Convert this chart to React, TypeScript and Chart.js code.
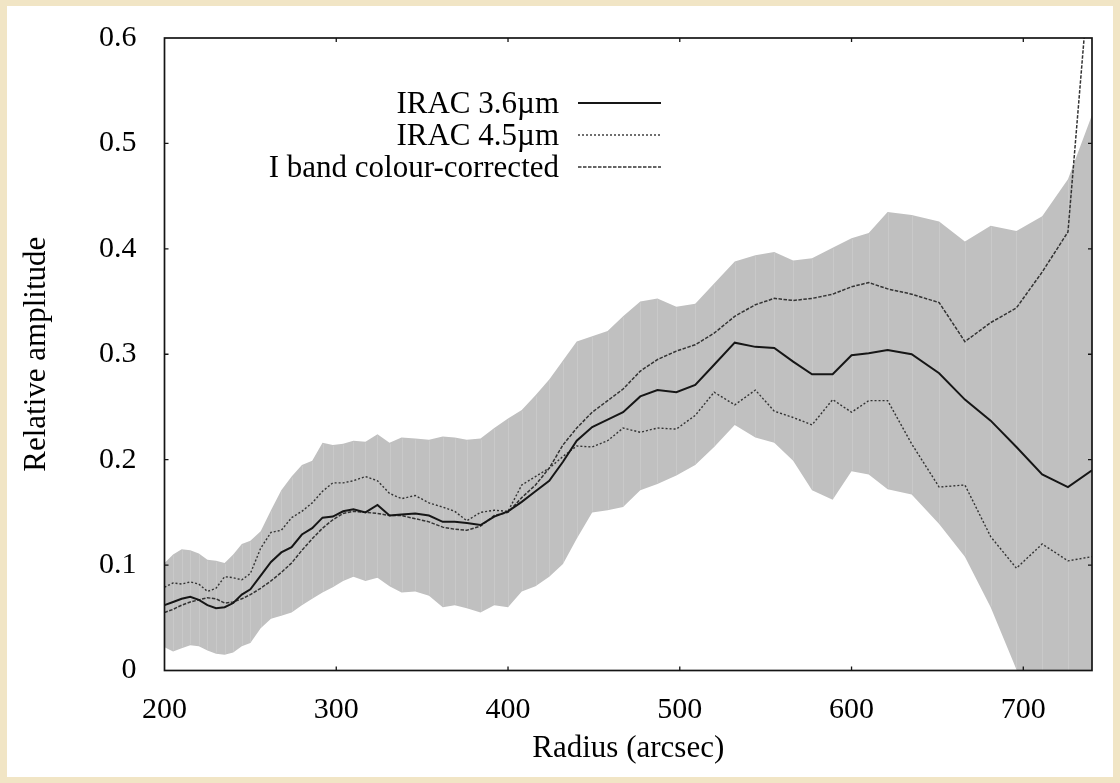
import React, { useEffect, useRef } from "react";
import { Chart, registerables } from "chart.js";

Chart.register(...registerables);

// Radius grid (arcsec)
const radius = [
  200, 205, 210, 215, 220, 225, 230, 235, 240, 245, 250, 256, 262, 268, 274, 280, 286, 292, 298, 304,
  310, 317, 324, 331, 338, 346, 354, 362, 369, 376, 384, 392, 400, 408, 416, 424, 432, 440, 449, 458,
  467, 477, 487, 498, 509, 520, 532, 544, 555, 566, 577, 589, 600, 610, 621, 635, 651, 666, 681, 696,
  711, 726, 740,
];

const irac36 = [
  0.062, 0.065, 0.068, 0.07, 0.067, 0.062, 0.059, 0.06, 0.064, 0.072, 0.077, 0.09, 0.103, 0.112, 0.117, 0.129, 0.135, 0.145, 0.146, 0.151,
  0.153, 0.15, 0.157, 0.147, 0.148, 0.149, 0.147, 0.141, 0.141, 0.14, 0.138, 0.146, 0.151, 0.16, 0.17, 0.18, 0.198, 0.218, 0.231, 0.238,
  0.245, 0.26, 0.266, 0.264, 0.271, 0.29, 0.311, 0.307, 0.306, 0.293, 0.281, 0.281, 0.299, 0.301, 0.304, 0.3, 0.282, 0.257, 0.237, 0.212,
  0.186, 0.174, 0.19,
];

const irac45 = [
  0.079, 0.083, 0.082, 0.084, 0.082, 0.075, 0.078, 0.089, 0.088, 0.086, 0.092, 0.116, 0.131, 0.133, 0.145, 0.151, 0.159, 0.17, 0.178, 0.178,
  0.18, 0.184, 0.18, 0.168, 0.163, 0.166, 0.159, 0.155, 0.151, 0.142, 0.15, 0.152, 0.151, 0.176, 0.184, 0.192, 0.203, 0.213, 0.212, 0.218,
  0.23, 0.226, 0.23, 0.229, 0.242, 0.264, 0.252, 0.266, 0.246, 0.24, 0.233, 0.257, 0.245, 0.256, 0.256, 0.215, 0.174, 0.176, 0.127, 0.097,
  0.12, 0.104, 0.108,
];

const iband = [
  0.055, 0.058, 0.062, 0.065, 0.067, 0.069, 0.068, 0.064, 0.065, 0.068, 0.072, 0.078, 0.085, 0.093, 0.102, 0.114, 0.125, 0.135, 0.143, 0.149,
  0.151, 0.15, 0.149, 0.147, 0.147, 0.144, 0.141, 0.136, 0.134, 0.133, 0.137, 0.147, 0.15, 0.164, 0.176, 0.192, 0.214, 0.23, 0.245, 0.256,
  0.267, 0.284, 0.295, 0.303, 0.309, 0.32, 0.336, 0.347, 0.353, 0.351, 0.353, 0.357, 0.364, 0.368, 0.362, 0.357, 0.349, 0.312, 0.33, 0.344,
  0.378, 0.416, 0.69,
];

const bandUpper = [
  0.102, 0.11, 0.115, 0.114, 0.111, 0.105, 0.104, 0.102, 0.11, 0.12, 0.123, 0.132, 0.152, 0.171, 0.184, 0.195, 0.199, 0.216, 0.214, 0.215,
  0.218, 0.217, 0.224, 0.216, 0.221, 0.22, 0.219, 0.222, 0.221, 0.219, 0.22, 0.23, 0.239, 0.247, 0.261, 0.276, 0.294, 0.312, 0.317, 0.322,
  0.336, 0.35, 0.353, 0.345, 0.348, 0.367, 0.388, 0.394, 0.397, 0.389, 0.391, 0.401, 0.41, 0.415, 0.435, 0.432, 0.426, 0.407, 0.422, 0.417,
  0.431, 0.466, 0.527,
];

const bandLower = [
  0.022, 0.018, 0.021, 0.024, 0.023, 0.019, 0.016, 0.015, 0.017, 0.023, 0.026, 0.04, 0.049, 0.052, 0.055, 0.062, 0.068, 0.074, 0.079, 0.085,
  0.089, 0.085, 0.088, 0.08, 0.074, 0.075, 0.071, 0.06, 0.062, 0.059, 0.055, 0.062, 0.06, 0.075, 0.08, 0.089, 0.101, 0.125, 0.15, 0.152,
  0.155, 0.171, 0.177, 0.185, 0.195, 0.212, 0.233, 0.221, 0.216, 0.199, 0.171, 0.162, 0.189, 0.186, 0.172, 0.167, 0.139, 0.108, 0.06, 0.001,
  -0.05, -0.1, -0.15,
];

const xTicks = [200, 300, 400, 500, 600, 700];
const yTicks = [0, 0.1, 0.2, 0.3, 0.4, 0.5, 0.6];
const seriesLabels = ["IRAC 3.6µm", "IRAC 4.5µm", "I band colour-corrected"];
const xTitle = "Radius (arcsec)";
const yTitle = "Relative amplitude";

const FONT = "'Liberation Serif', 'Times New Roman', serif";

const pts = (ys: number[]) => radius.map((r, i) => ({ x: r, y: ys[i] }));

const bgPlugin = {
  id: "bgPlugin",
  beforeDraw(chart: any) {
    const ctx = chart.ctx;
    ctx.save();
    ctx.fillStyle = "#f1e5c5";
    ctx.fillRect(0, 0, chart.width, chart.height);
    ctx.fillStyle = "#ffffff";
    ctx.fillRect(7, 6, chart.width - 14, chart.height - 12);
    ctx.restore();
  },
};

const stripePlugin = {
  id: "stripePlugin",
  afterDatasetDraw(chart: any, args: any) {
    if (args.index !== 3) return;
    const { ctx, chartArea: a, scales } = chart;
    const x = scales.x;
    const y = scales.y;
    ctx.save();
    ctx.beginPath();
    ctx.rect(a.left, a.top, a.right - a.left, a.bottom - a.top);
    ctx.clip();
    ctx.strokeStyle = "rgba(255,255,255,0.14)";
    ctx.lineWidth = 1;
    for (let i = 1; i < radius.length - 1; i++) {
      const px = Math.round(x.getPixelForValue(radius[i])) + 0.5;
      ctx.beginPath();
      ctx.moveTo(px, y.getPixelForValue(bandUpper[i]) + 1);
      ctx.lineTo(px, y.getPixelForValue(bandLower[i]) - 1);
      ctx.stroke();
    }
    ctx.restore();
  },
};

const framePlugin = {
  id: "framePlugin",
  afterDatasetsDraw(chart: any) {
    const { ctx, chartArea: a, scales } = chart;
    const x = scales.x;
    const y = scales.y;
    ctx.save();
    ctx.strokeStyle = "#141414";
    ctx.lineWidth = 1.7;
    ctx.strokeRect(a.left, a.top, a.right - a.left, a.bottom - a.top);
    ctx.lineWidth = 1.3;
    const L = 4;
    ctx.beginPath();
    x.ticks.forEach((t: any) => {
      const px = x.getPixelForValue(t.value);
      if (px <= a.left + 1 || px >= a.right - 1) return;
      ctx.moveTo(px, a.bottom);
      ctx.lineTo(px, a.bottom - L);
      ctx.moveTo(px, a.top);
      ctx.lineTo(px, a.top + L);
    });
    y.ticks.forEach((t: any) => {
      const py = y.getPixelForValue(t.value);
      if (py <= a.top + 1 || py >= a.bottom - 1) return;
      ctx.moveTo(a.left, py);
      ctx.lineTo(a.left + L, py);
      ctx.moveTo(a.right, py);
      ctx.lineTo(a.right - L, py);
    });
    ctx.stroke();
    ctx.restore();
  },
};

const legendPlugin = {
  id: "legendPlugin",
  afterDraw(chart: any) {
    const ctx = chart.ctx;
    const textRight = 559;
    const sampleL = 578;
    const sampleR = 661;
    const baselines = [113, 145, 177];
    ctx.save();
    ctx.font = `31px ${FONT}`;
    ctx.textAlign = "right";
    ctx.textBaseline = "alphabetic";
    ctx.fillStyle = "#000";
    for (let i = 0; i < 3; i++) {
      const ds = chart.data.datasets[i];
      ctx.fillText(ds.label, textRight, baselines[i]);
      ctx.beginPath();
      ctx.strokeStyle = ds.borderColor;
      ctx.lineWidth = ds.borderWidth;
      ctx.setLineDash(ds.borderDash || []);
      const ly = baselines[i] - 10;
      ctx.moveTo(sampleL, ly);
      ctx.lineTo(sampleR, ly);
      ctx.stroke();
    }
    ctx.restore();
  },
};

export default function App() {
  const ref = useRef<HTMLCanvasElement | null>(null);

  useEffect(() => {
    if (!ref.current) return;
    const chart = new Chart(ref.current, {
      type: "line",
      data: {
        datasets: [
          {
            label: seriesLabels[0],
            data: pts(irac36),
            borderColor: "#161616",
            borderWidth: 2,
            pointRadius: 0,
            fill: false,
            tension: 0,
            clip: 0,
          },
          {
            label: seriesLabels[1],
            data: pts(irac45),
            borderColor: "#333333",
            borderWidth: 1.4,
            borderDash: [2, 2],
            pointRadius: 0,
            fill: false,
            tension: 0,
            clip: 0,
          },
          {
            label: seriesLabels[2],
            data: pts(iband),
            borderColor: "#333333",
            borderWidth: 1.5,
            borderDash: [3.5, 1.5],
            pointRadius: 0,
            fill: false,
            tension: 0,
            clip: 0,
          },
          {
            label: "band upper",
            data: pts(bandUpper),
            borderWidth: 0,
            borderColor: "rgba(0,0,0,0)",
            backgroundColor: "#c0c0c0",
            pointRadius: 0,
            fill: "+1",
            tension: 0,
            clip: 0,
          },
          {
            label: "band lower",
            data: pts(bandLower),
            borderWidth: 0,
            borderColor: "rgba(0,0,0,0)",
            pointRadius: 0,
            fill: false,
            tension: 0,
            clip: 0,
          },
        ],
      } as any,
      options: {
        animation: false,
        responsive: false,
        devicePixelRatio: 1,
        layout: { padding: { left: 0, top: 35, right: 28, bottom: 0 } },
        plugins: {
          legend: { display: false },
          tooltip: { enabled: false },
        },
        scales: {
          x: {
            type: "linear",
            min: 200,
            max: 740,
            grid: { display: false },
            border: { display: false },
            afterBuildTicks: (s: any) => {
              s.ticks = xTicks.map((v) => ({ value: v }));
            },
            afterFit: (s: any) => {
              s.height = 112.5;
            },
            ticks: {
              padding: 14,
              color: "#000",
              font: { family: FONT, size: 30 },
              maxRotation: 0,
              autoSkip: false,
            },
            title: {
              display: true,
              text: xTitle,
              color: "#000",
              font: { family: FONT, size: 31 },
              padding: { top: 0, bottom: 16 },
            },
          },
          y: {
            type: "linear",
            min: 0,
            max: 0.6,
            grid: { display: false },
            border: { display: false },
            afterBuildTicks: (s: any) => {
              s.ticks = yTicks.map((v) => ({ value: v }));
            },
            afterFit: (s: any) => {
              s.width = 164.5;
            },
            ticks: {
              padding: 20,
              color: "#000",
              font: { family: FONT, size: 30 },
              autoSkip: false,
            },
            title: {
              display: true,
              text: yTitle,
              color: "#000",
              font: { family: FONT, size: 31 },
              padding: { top: 18, bottom: 0 },
            },
          },
        },
      } as any,
      plugins: [bgPlugin, stripePlugin, framePlugin, legendPlugin],
    });
    return () => chart.destroy();
  }, []);

  return (
    <canvas
      ref={ref}
      width={1120}
      height={783}
      style={{ display: "block", position: "fixed", left: 0, top: 0 }}
    />
  );
}
